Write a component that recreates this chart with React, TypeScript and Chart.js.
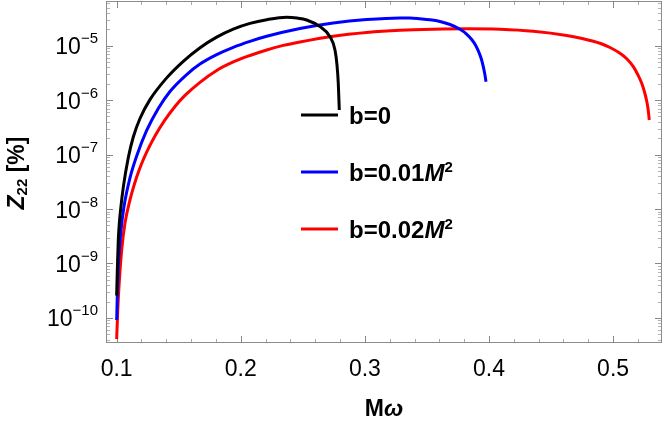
import React, { useEffect, useRef } from "react";
import { Chart, registerables } from "chart.js";

Chart.register(...registerables);

// ---- data (Mω, Z22 [%]) ----
const blackX = [0.1, 0.10048, 0.10129, 0.10201, 0.10322, 0.10532, 0.10943, 0.11338, 0.11878, 0.12683, 0.14029, 0.15367, 0.1672, 0.18058, 0.19396, 0.20741, 0.22095, 0.2369, 0.24529, 0.2531, 0.26382, 0.27188, 0.27591, 0.27752, 0.27856, 0.27937];
const blackY = [2.57e-10, 7.1e-10, 2.63e-9, 5.0e-9, 1.0e-8, 2.5e-8, 8.9e-8, 2.1e-7, 4.6e-7, 1.02e-6, 2.56e-6, 5.16e-6, 9.18e-6, 1.436e-5, 2.014e-5, 2.563e-5, 2.997e-5, 3.317e-5, 3.21e-5, 2.96e-5, 2.23e-5, 1.46e-5, 8.32e-6, 4.42e-6, 2.04e-6, 6.58e-7];

const blueX = [0.1, 0.10056, 0.10129, 0.10322, 0.10588, 0.11072, 0.11612, 0.12417, 0.13352, 0.14295, 0.15641, 0.16712, 0.18058, 0.19396, 0.20741, 0.22087, 0.2477, 0.27454, 0.30145, 0.32829, 0.33634, 0.3444, 0.35246, 0.36052, 0.36858, 0.37664, 0.38147, 0.38606, 0.38953, 0.39218, 0.39396, 0.3954, 0.39662, 0.39758];
const blueY = [9.18e-11, 2.87e-10, 8.73e-10, 3.58e-9, 1.1e-8, 3.72e-8, 9.42e-8, 2.77e-7, 7.02e-7, 1.44e-6, 2.95e-6, 4.6e-6, 6.85e-6, 9.33e-6, 1.2e-5, 1.485e-5, 2.065e-5, 2.606e-5, 3.01e-5, 3.22e-5, 3.21e-5, 3.11e-5, 2.985e-5, 2.777e-5, 2.445e-5, 2.0e-5, 1.67e-5, 1.297e-5, 9.86e-6, 7.24e-6, 5.57e-6, 4.11e-6, 3.02e-6, 2.18e-6];

const redX = [0.1, 0.10081, 0.10185, 0.10403, 0.10669, 0.11072, 0.11612, 0.12015, 0.12417, 0.13086, 0.13892, 0.14698, 0.15504, 0.16712, 0.18058, 0.19396, 0.20741, 0.22087, 0.23425, 0.2477, 0.27454, 0.30145, 0.32829, 0.35512, 0.38203, 0.40886, 0.4357, 0.46261, 0.47599, 0.48945, 0.4975, 0.50556, 0.5112, 0.51628, 0.52006, 0.52305, 0.5253, 0.52707, 0.52828, 0.52917];
const redY = [4.11e-11, 1.29e-10, 3.75e-10, 1.77e-9, 5.47e-9, 1.47e-8, 3.87e-8, 6.86e-8, 1.11e-7, 2.19e-7, 4.32e-7, 7.64e-7, 1.22e-6, 2.12e-6, 3.5e-6, 5.01e-6, 6.59e-6, 8.32e-6, 1.01e-5, 1.17e-5, 1.49e-5, 1.74e-5, 1.91e-5, 2.0e-5, 2.04e-5, 2.0e-5, 1.835e-5, 1.536e-5, 1.336e-5, 1.105e-5, 9.25e-6, 7.24e-6, 5.69e-6, 4.11e-6, 2.89e-6, 2.04e-6, 1.41e-6, 9.64e-7, 6.58e-7, 4.31e-7];

const seriesColors = ["#000000", "#0000ff", "#ff0000"];
const legendMain = ["b=0", "b=0.01", "b=0.02"];

// ---- axes ----
const xMin = 0.0914;
const xMax = 0.5394;
const yMin = 3.47e-11;
const yMax = 6.6e-5;
const xMajorTicks = [0.1, 0.2, 0.3, 0.4, 0.5];
const xTickLabels = ["0.1", "0.2", "0.3", "0.4", "0.5"];
const xMinorTicks = [0.12, 0.14, 0.16, 0.18, 0.22, 0.24, 0.26, 0.28, 0.32, 0.34, 0.36, 0.38, 0.42, 0.44, 0.46, 0.48, 0.52];
const yMajorExponents = [-10, -9, -8, -7, -6, -5];
const yTickExps = [-11, -10, -9, -8, -7, -6, -5, -4];

const FONT = '"Liberation Sans", Arial, sans-serif';

type Seg = { t: string; font: string; dy?: number };

function drawRich(ctx: CanvasRenderingContext2D, segs: Seg[], x: number, y: number, align: "left" | "center" | "right") {
  let total = 0;
  for (const s of segs) {
    ctx.font = s.font;
    total += ctx.measureText(s.t).width;
  }
  let cx = align === "left" ? x : align === "center" ? x - total / 2 : x - total;
  ctx.textAlign = "left";
  ctx.textBaseline = "alphabetic";
  for (const s of segs) {
    ctx.font = s.font;
    ctx.fillText(s.t, cx, y + (s.dy || 0));
    cx += ctx.measureText(s.t).width;
  }
}

const framePlugin = {
  id: "mmaFrame",
  beforeDatasetsDraw(chart: any) {
    const ctx: CanvasRenderingContext2D = chart.ctx;
    const { left, right, top, bottom } = chart.chartArea;
    const xs = chart.scales.x;
    const ys = chart.scales.y;
    ctx.save();
    ctx.lineWidth = 1;
    const xt = (v: number, len: number, col: string) => {
      const px = Math.round(xs.getPixelForValue(v)) + 0.5;
      ctx.strokeStyle = col;
      ctx.beginPath();
      ctx.moveTo(px, bottom);
      ctx.lineTo(px, bottom - len);
      ctx.moveTo(px, top);
      ctx.lineTo(px, top + len);
      ctx.stroke();
    };
    xMinorTicks.forEach((v) => xt(v, 4, "#a8a8a8"));
    xMajorTicks.forEach((v) => xt(v, 7, "#888888"));
    const yt = (v: number, len: number, col: string) => {
      const py = Math.round(ys.getPixelForValue(v)) + 0.5;
      if (py < top || py > bottom) return;
      ctx.strokeStyle = col;
      ctx.beginPath();
      ctx.moveTo(left, py);
      ctx.lineTo(left + len, py);
      ctx.moveTo(right, py);
      ctx.lineTo(right - len, py);
      ctx.stroke();
    };
    yTickExps.forEach((e) => {
      for (let m = 2; m <= 9; m++) yt(m * Math.pow(10, e), 4, "#b4b4b4");
    });
    yTickExps.forEach((e) => yt(Math.pow(10, e), 7, "#888888"));
    ctx.strokeStyle = "#8c8c8c";
    ctx.strokeRect(left + 0.5, top + 0.5, right - left - 1, bottom - top - 1);
    ctx.restore();
  },
  afterDraw(chart: any) {
    const ctx: CanvasRenderingContext2D = chart.ctx;
    const { left, right, top, bottom } = chart.chartArea;
    const xs = chart.scales.x;
    const ys = chart.scales.y;
    ctx.save();
    ctx.fillStyle = "#000000";
    xMajorTicks.forEach((v, i) => {
      drawRich(ctx, [{ t: xTickLabels[i], font: `23px ${FONT}` }], xs.getPixelForValue(v), bottom + 33, "center");
    });
    yMajorExponents.forEach((e) => {
      const py = ys.getPixelForValue(Math.pow(10, e));
      drawRich(
        ctx,
        [
          { t: "10", font: `23px ${FONT}` },
          { t: "\u2212" + String(-e), font: `15px ${FONT}`, dy: -11 },
        ],
        left - 8,
        py + 8.5,
        "right"
      );
    });
    drawRich(
      ctx,
      [
        { t: "M", font: `bold 23px ${FONT}` },
        { t: "\u03c9", font: `italic bold 23px ${FONT}` },
      ],
      (left + right) / 2,
      416,
      "center"
    );
    ctx.save();
    ctx.translate(24, (top + bottom) / 2 + 1);
    ctx.rotate(-Math.PI / 2);
    drawRich(
      ctx,
      [
        { t: "Z", font: `italic bold 23px ${FONT}` },
        { t: "22", font: `bold 15px ${FONT}`, dy: 3 },
        { t: " [%]", font: `bold 23px ${FONT}` },
      ],
      0,
      0,
      "center"
    );
    ctx.restore();
    const legendY = [115, 172, 229];
    legendY.forEach((ly, i) => {
      ctx.strokeStyle = seriesColors[i];
      ctx.lineWidth = 3;
      ctx.beginPath();
      ctx.moveTo(301, ly);
      ctx.lineTo(338, ly);
      ctx.stroke();
      ctx.fillStyle = "#000000";
      const segs: Seg[] = [{ t: legendMain[i], font: `bold 24px ${FONT}` }];
      if (i > 0) {
        segs.push({ t: "M", font: `italic bold 24px ${FONT}` });
        segs.push({ t: "2", font: `bold 15px ${FONT}`, dy: -9 });
      }
      drawRich(ctx, segs, 349, ly + 8.5, "left");
    });
    ctx.restore();
  },
};

const toPts = (xs: number[], ys: number[]) => xs.map((x, i) => ({ x, y: ys[i] }));

export default function App() {
  const ref = useRef<HTMLCanvasElement | null>(null);
  useEffect(() => {
    document.body.style.margin = "0";
    const canvas = ref.current;
    if (!canvas) return;
    const mk = (data: { x: number; y: number }[], color: string) => ({
      data,
      borderColor: color,
      backgroundColor: color,
      borderWidth: 3,
      pointRadius: 0,
      fill: false,
      cubicInterpolationMode: "monotone" as const,
      borderCapStyle: "butt" as const,
    });
    const chart = new Chart(canvas, {
      type: "line",
      data: {
        datasets: [
          mk(toPts(blackX, blackY), seriesColors[0]),
          mk(toPts(blueX, blueY), seriesColors[1]),
          mk(toPts(redX, redY), seriesColors[2]),
        ],
      },
      options: {
        responsive: false,
        animation: false,
        devicePixelRatio: 1,
        layout: { padding: { left: 106, right: 2, top: 1, bottom: 78 } },
        scales: {
          x: { type: "linear", min: xMin, max: xMax, display: false },
          y: { type: "logarithmic", min: yMin, max: yMax, display: false },
        },
        plugins: { legend: { display: false }, tooltip: { enabled: false } },
      },
      plugins: [framePlugin],
    });
    return () => chart.destroy();
  }, []);
  return (
    <div style={{ position: "absolute", left: 0, top: 0, width: 664, height: 421, background: "#fff" }}>
      <canvas ref={ref} width={664} height={421} style={{ width: 664, height: 421, display: "block" }} />
    </div>
  );
}
